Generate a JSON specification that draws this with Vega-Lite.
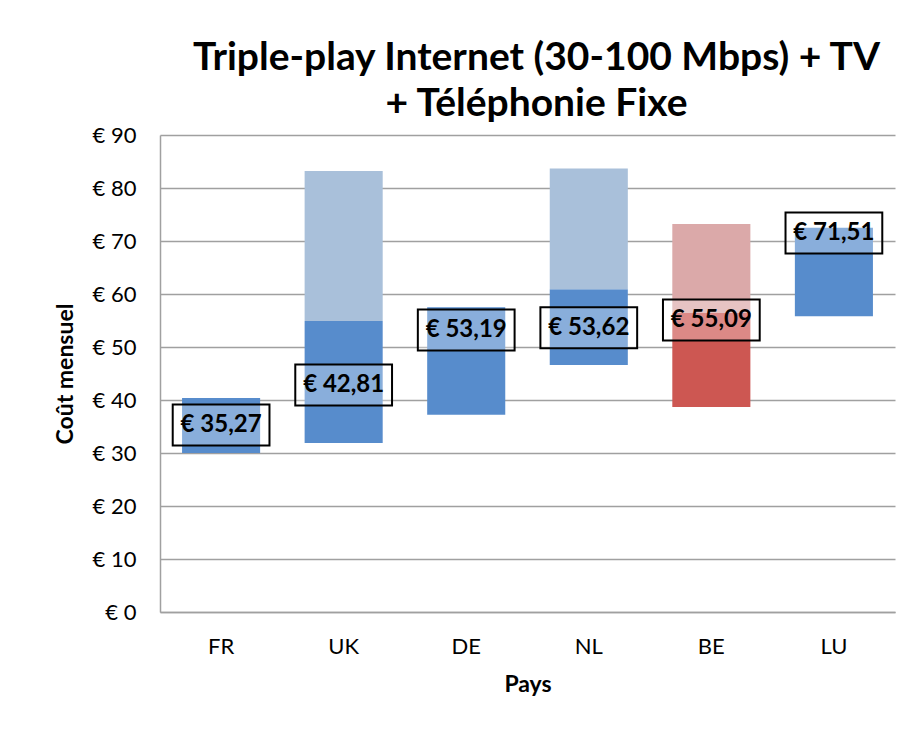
{
  "$schema": "https://vega.github.io/schema/vega-lite/v6.json",
  "width": 735,
  "height": 477,
  "autosize": "none",
  "padding": {"left": 160, "top": 135, "right": 14, "bottom": 123},
  "background": "white",
  "title": {
    "text": ["Triple-play Internet (30-100 Mbps) + TV", "+ Téléphonie Fixe"],
    "font": "Lato",
    "fontSize": 39,
    "fontWeight": "bold",
    "color": "black",
    "lineHeight": 46,
    "anchor": "middle",
    "dx": 9,
    "offset": 0
  },
  "datasets": {
    "segments": [
      {"pays": "FR", "segment": "bleu foncé", "bas": 30.0, "haut": 40.4},
      {"pays": "UK", "segment": "bleu foncé", "bas": 31.9, "haut": 54.9},
      {"pays": "UK", "segment": "bleu clair", "bas": 54.9, "haut": 83.2},
      {"pays": "DE", "segment": "bleu foncé", "bas": 37.2, "haut": 57.5},
      {"pays": "NL", "segment": "bleu foncé", "bas": 46.6, "haut": 60.9},
      {"pays": "NL", "segment": "bleu clair", "bas": 60.9, "haut": 83.7},
      {"pays": "BE", "segment": "rouge foncé", "bas": 38.7, "haut": 56.4},
      {"pays": "BE", "segment": "rouge clair", "bas": 56.4, "haut": 73.2},
      {"pays": "LU", "segment": "bleu foncé", "bas": 55.8, "haut": 72.5}
    ],
    "etiquettes": [
      {"pays": "FR", "valeur": 35.27, "texte": "€ 35,27"},
      {"pays": "UK", "valeur": 42.81, "texte": "€ 42,81"},
      {"pays": "DE", "valeur": 53.19, "texte": "€ 53,19"},
      {"pays": "NL", "valeur": 53.62, "texte": "€ 53,62"},
      {"pays": "BE", "valeur": 55.09, "texte": "€ 55,09"},
      {"pays": "LU", "valeur": 71.51, "texte": "€ 71,51"}
    ]
  },
  "encoding": {
    "x": {
      "field": "pays",
      "type": "nominal",
      "sort": ["FR", "UK", "DE", "NL", "BE", "LU"],
      "scale": {"paddingInner": 0.363, "paddingOuter": 0.18},
      "axis": {
        "title": "Pays",
        "labelAngle": 0,
        "ticks": false,
        "domainColor": "#a0a0a0",
        "domainWidth": 1.5,
        "labelFont": "Lato",
        "labelFontSize": 22,
        "labelColor": "black",
        "labelPadding": 24,
        "titleFont": "Lato",
        "titleFontSize": 23,
        "titleFontWeight": "bold",
        "titleColor": "black",
        "titlePadding": 16
      }
    }
  },
  "layer": [
    {
      "data": {"name": "segments"},
      "mark": {"type": "bar"},
      "encoding": {
        "y": {
          "field": "bas",
          "type": "quantitative",
          "scale": {"domain": [0, 90], "nice": false},
          "axis": {
            "title": "Coût mensuel",
            "values": [0, 10, 20, 30, 40, 50, 60, 70, 80, 90],
            "labelExpr": "'€ ' + datum.value",
            "grid": true,
            "gridColor": "#a0a0a0",
            "gridWidth": 1.5,
            "ticks": false,
            "domainColor": "#a0a0a0",
            "domainWidth": 1.5,
            "labelFont": "Lato",
            "labelFontSize": 22,
            "labelColor": "black",
            "labelPadding": 24,
            "titleFont": "Lato",
            "titleFontSize": 23,
            "titleFontWeight": "bold",
            "titleColor": "black",
            "titlePadding": 15
          }
        },
        "y2": {"field": "haut"},
        "color": {
          "field": "segment",
          "type": "nominal",
          "scale": {
            "domain": ["bleu foncé", "bleu clair", "rouge foncé", "rouge clair"],
            "range": ["#578ccc", "#a9c0da", "#cd5752", "#dba9a9"]
          },
          "legend": null
        }
      }
    },
    {
      "data": {"name": "etiquettes"},
      "mark": {
        "type": "point",
        "shape": "M-1.18,-0.5H1.18V0.5H-1.18Z",
        "size": 6724,
        "filled": true,
        "fill": "white",
        "fillOpacity": 0.3,
        "stroke": "black",
        "strokeWidth": 2,
        "strokeOpacity": 1
      },
      "encoding": {
        "y": {"field": "valeur", "type": "quantitative"}
      }
    },
    {
      "data": {"name": "etiquettes"},
      "mark": {
        "type": "text",
        "font": "Lato",
        "fontSize": 24,
        "fontWeight": "bold",
        "color": "black",
        "baseline": "middle",
        "align": "center"
      },
      "encoding": {
        "y": {"field": "valeur", "type": "quantitative"},
        "text": {"field": "texte"}
      }
    }
  ],
  "config": {
    "view": {"stroke": null}
  }
}
